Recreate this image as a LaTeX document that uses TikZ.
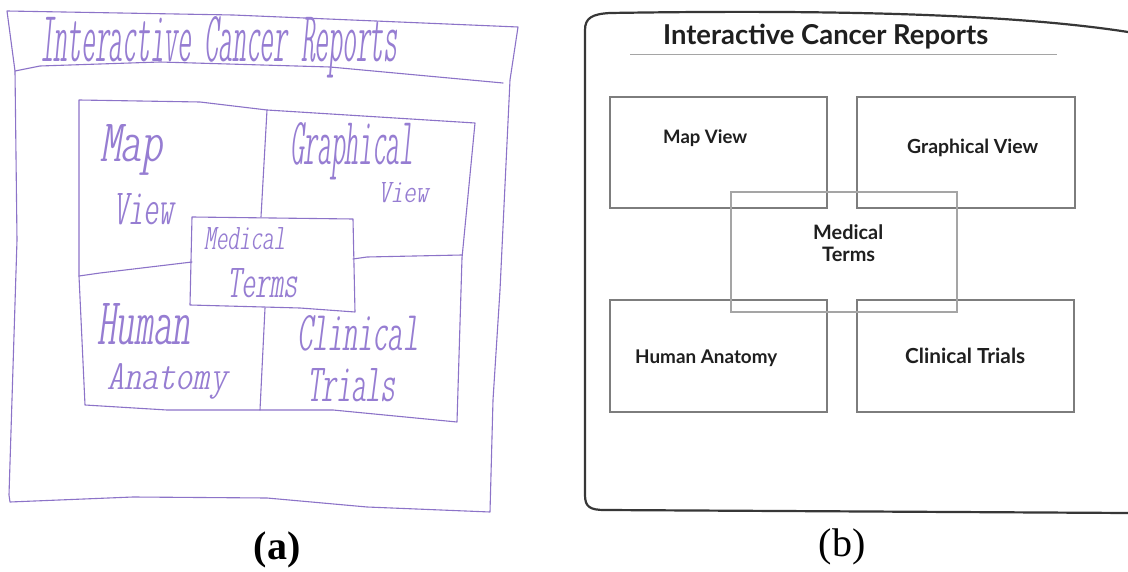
\documentclass[tikz,border=0pt]{standalone}
\usepackage{fontspec}
\usepackage{graphicx}
\newfontfamily\uifont{Lato}
\newfontfamily\capfont{Liberation Serif}
\newfontfamily\handfont{lmmonoltcond10-oblique.otf}
\definecolor{ink}{RGB}{140,115,200}
\definecolor{penink}{RGB}{150,125,210}
\definecolor{frameline}{RGB}{55,55,55}
\definecolor{boxline}{RGB}{125,125,125}
\definecolor{softline}{RGB}{165,165,165}
% a handwritten word, stretched to a given width and height (pt)
\newcommand\handword[3]{\resizebox{#1pt}{#2pt}{#3}}
% a typed label, stretched to a given width (pt)
\newcommand\uiword[2]{\resizebox{#1pt}{!}{#2}}
\begin{document}
\begin{tikzpicture}[x=1pt,y=-1pt,
  sketch/.style={draw=ink, line width=1.1pt, line join=round, line cap=round},
  hand/.style={text=penink, inner sep=0pt, anchor=base west, font=\handfont},
  uibox/.style={draw=boxline, line width=1.3pt, inner sep=0pt},
  uitext/.style={inner sep=0pt, anchor=base west, font=\uifont\bfseries, text=black!88},
  caption/.style={inner sep=0pt, font=\capfont\fontsize{40}{44}\selectfont}]

\fill[white] (0,0) rectangle (1128,572);
\useasboundingbox (0,0) rectangle (1128,572);

% ---------- (a) paper sketch ----------
% outer sheet
\draw[sketch] (7,11) -- (233,15) -- (518,27) -- (510,80) -- (500,290) -- (493,400) -- (490,512)
  -- (367,507) -- (267,498) -- (133,497) -- (10,502) -- (9,495) -- (17,240) -- (15,71) -- cycle;
% line under the title
\draw[sketch] (15,71) -- (40,66) -- (160,62) -- (330,67) -- (503,83);
% grid of views
\draw[sketch] (79,100) -- (200,102) -- (267,110) -- (475,123) -- (462,258) -- (457,422)
  -- (333,410) -- (260,410) -- (167,410) -- (85,405) -- (79,276) -- cycle;
\draw[sketch] (267,110) -- (261,217);
\draw[sketch] (265,308) -- (260,410);
\draw[sketch] (79,276) -- (100,273) -- (192,262);
\draw[sketch] (353,259) -- (367,257) -- (462,255);
% medical terms box
\draw[sketch] (192,217) -- (353,219) -- (355,312) -- (300,308) -- (190,305) -- cycle;

\node[hand] (htitle) at (40,62) {\handword{357}{45}{Interactive Cancer Reports}};
\node[hand] (hmap)   at (100,162) {\handword{62}{37}{Map}};
\node[hand] (hmapv)  at (113,225) {\handword{60}{31}{View}};
\node[hand] (hgraph) at (290,165) {\handword{123}{42}{Graphical}};
\node[hand] (hgraphv) at (378,203) {\handword{50}{20}{View}};
\node[hand] (hmed)   at (204,250) {\handword{81}{22}{Medical}};
\node[hand] (hterms) at (227,298) {\handword{70}{29}{Terms}};
\node[hand] (hhuman) at (97,344) {\handword{93}{41}{Human}};
\node[hand] (hanat)  at (107,389) {\handword{120}{26}{Anatomy}};
\node[hand] (hclin)  at (297,350) {\handword{121}{35}{Clinical}};
\node[hand] (htrial) at (307,402) {\handword{88}{33}{Trials}};

\node[caption, font=\capfont\bfseries\fontsize{40}{44}\selectfont] (capa) at (277,550) {(a)};

% ---------- (b) wireframe ----------
\draw[frameline, line width=2.2pt, line cap=round]
  (1128,32) .. controls (1000,12) and (800,10) .. (610,13)
  .. controls (592,14) and (585,18) .. (585,30) -- (585,495)
  .. controls (585,507) and (590,510) .. (605,510) -- (1128,513);

\node[uitext] (title) at (663,45) {\uiword{325}{Interactive Cancer Reports}};
\draw[softline, line width=1pt] (630,55) -- (1057,55);

\node[uibox, minimum width=217pt, minimum height=111pt] (map)   at (718.5,152.5) {};
\node[uibox, minimum width=218pt, minimum height=111pt] (graph) at (966,152.5) {};
\node[uibox, minimum width=217pt, minimum height=112pt] (human) at (718.5,356) {};
\node[uibox, minimum width=217pt, minimum height=112pt] (clin)  at (965.5,356) {};
\node[uibox, draw=softline, minimum width=226pt, minimum height=120pt] (med) at (844,252) {};

\node[uitext] (tmap)   at (663,144) {\uiword{84}{Map View}};
\node[uitext] (tgraph) at (907,154) {\uiword{131}{Graphical View}};
\node[uitext] (tmed)   at (813,240) {\uiword{70}{Medical}};
\node[uitext] (tterms) at (822,262) {\uiword{53}{Terms}};
\node[uitext] (thuman) at (635,363) {\uiword{142}{Human Anatomy}};
\node[uitext] (tclin)  at (905,363) {\uiword{120}{Clinical Trials}};

\node[caption] (capb) at (842,547) {(b)};
\end{tikzpicture}
\end{document}
